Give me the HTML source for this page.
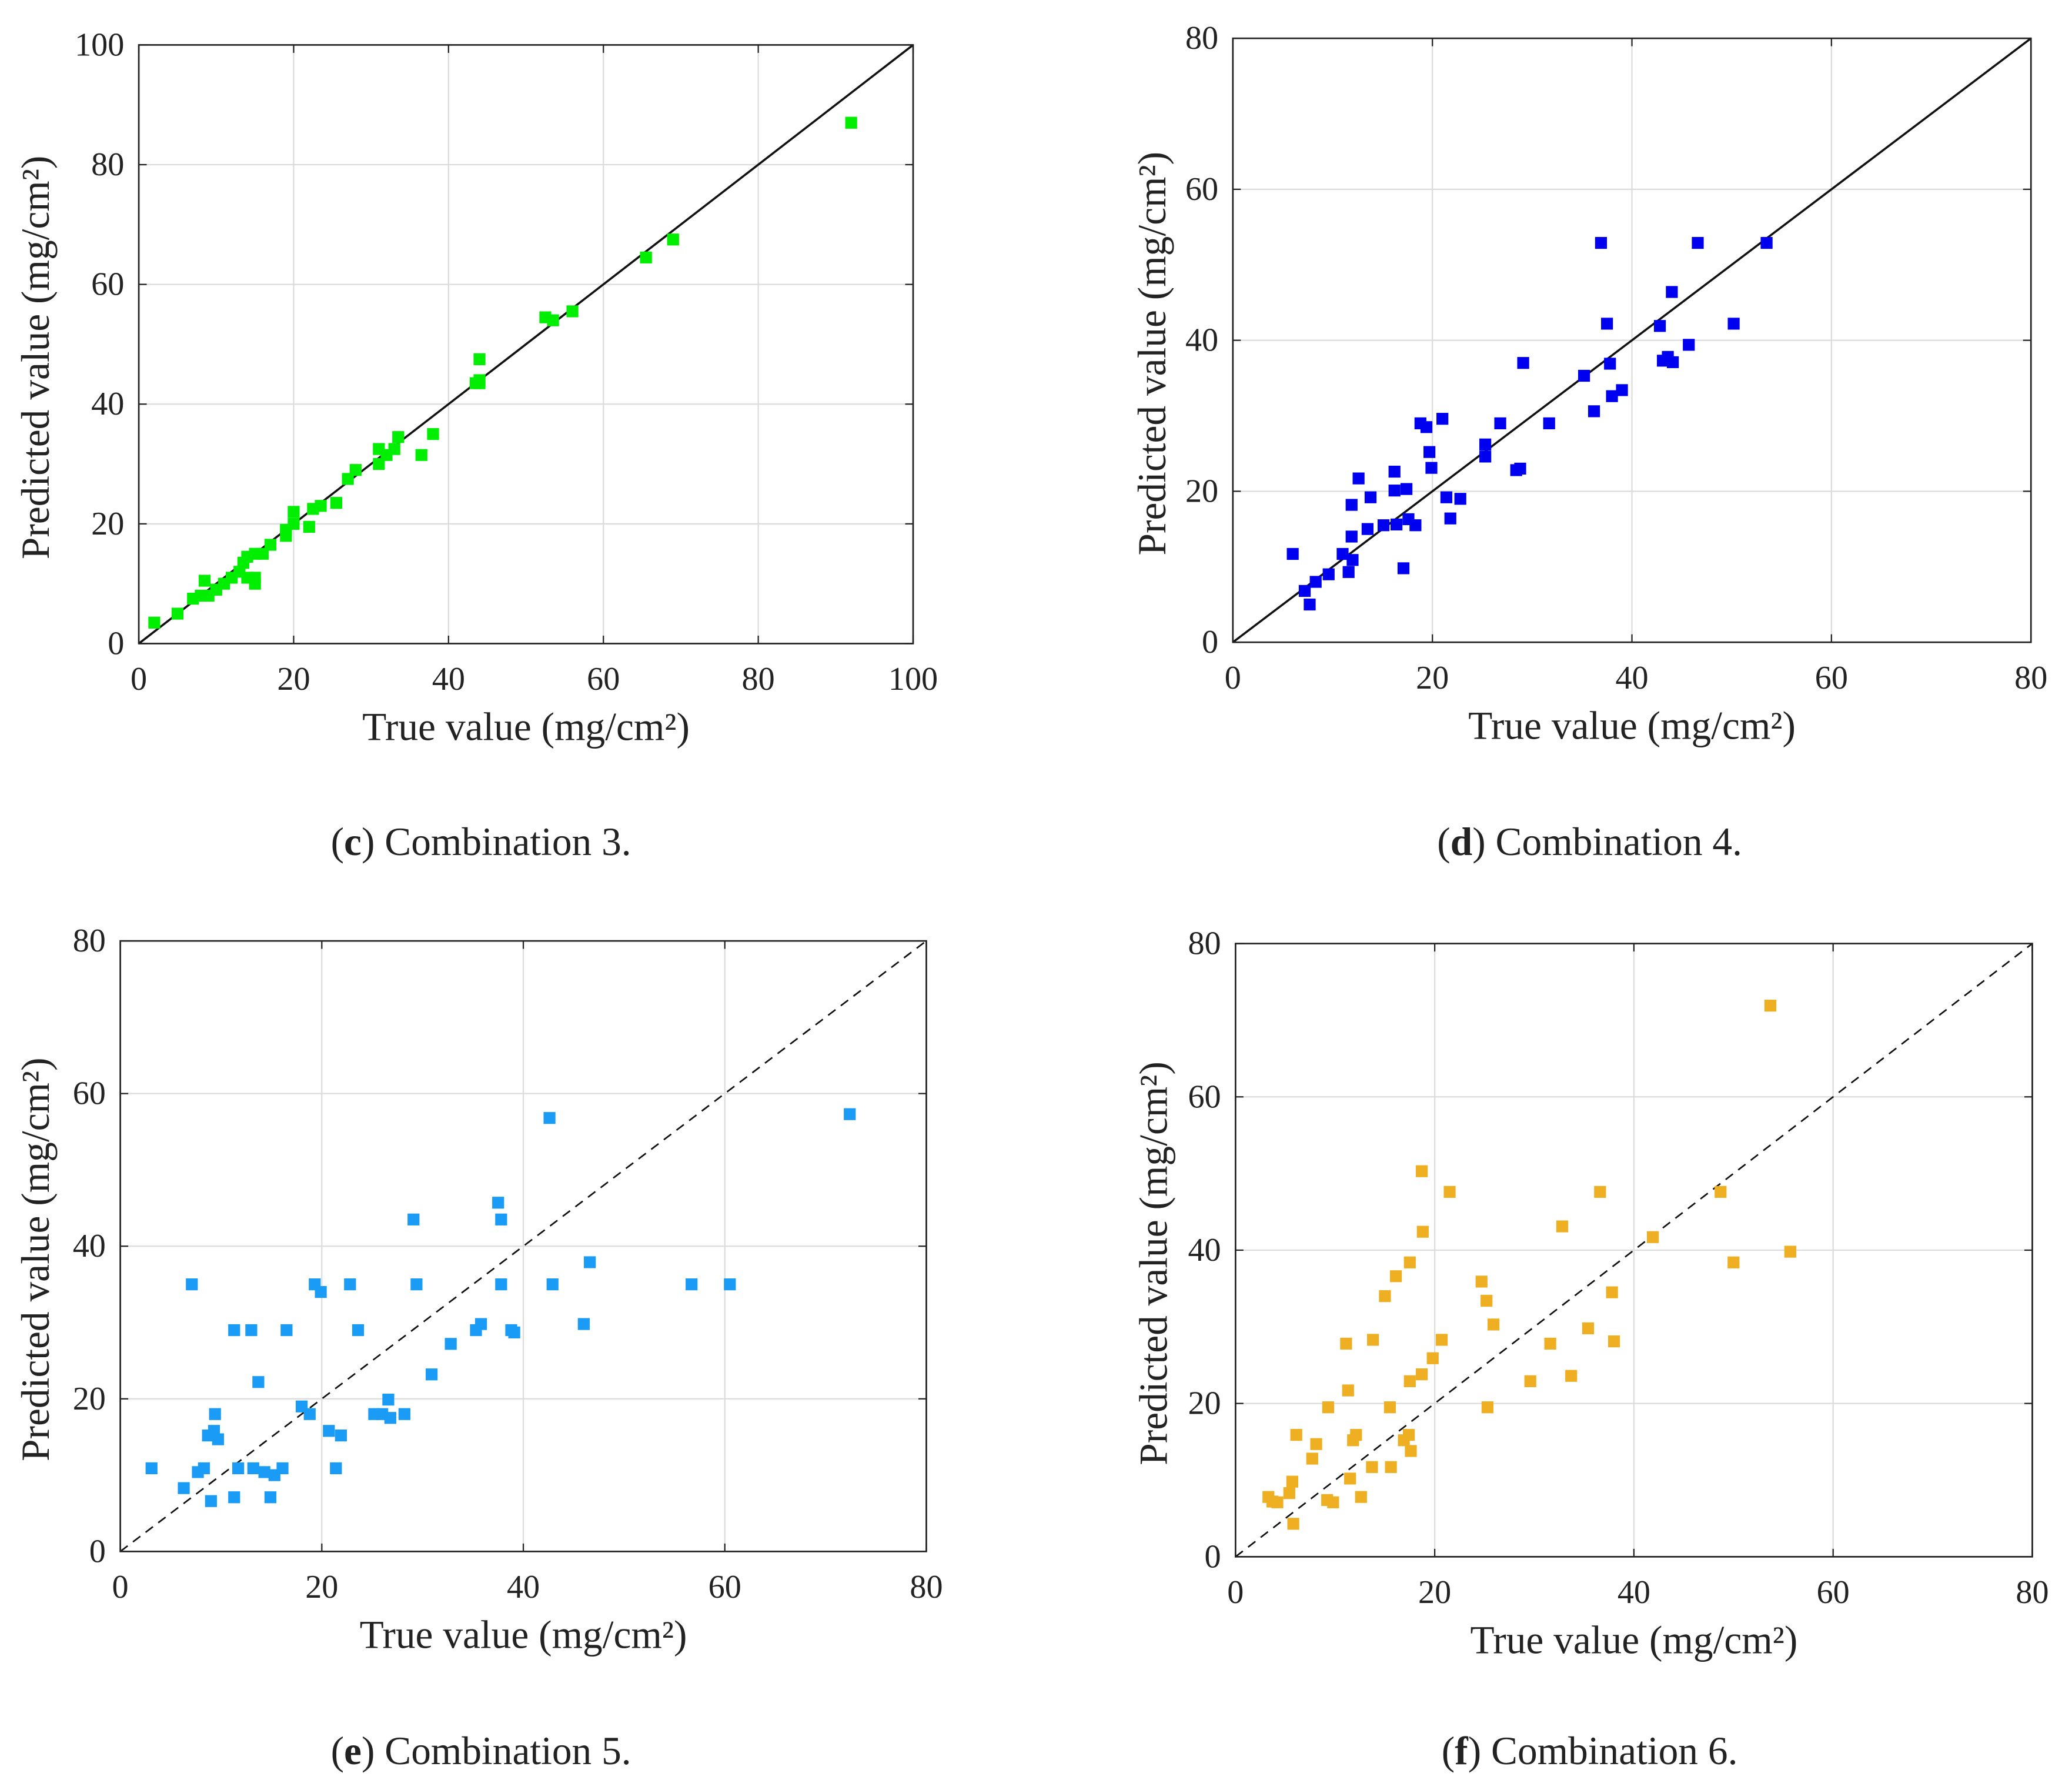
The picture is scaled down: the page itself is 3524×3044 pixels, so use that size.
<!DOCTYPE html>
<html><head><meta charset="utf-8"><style>
html,body{margin:0;padding:0;background:#fff}
svg{display:block;font-family:"Liberation Serif","Times New Roman",serif}
text{font-family:"Liberation Serif","Times New Roman",serif;fill:#222}
</style></head><body>
<svg id="fig" width="3524" height="3044" viewBox="0 0 1568 1354.5" font-family="Liberation Serif, serif" xmlns="http://www.w3.org/2000/svg">
<rect width="1568" height="1354.5" fill="#fff"/>
<text x="364" y="647" font-size="30" text-anchor="middle" font-family="Liberation Serif, serif">(<tspan font-weight="bold">c</tspan>) Combination 3.</text>
<text x="1203" y="647" font-size="30" text-anchor="middle" font-family="Liberation Serif, serif">(<tspan font-weight="bold">d</tspan>) Combination 4.</text>
<text x="364" y="1335" font-size="30" text-anchor="middle" font-family="Liberation Serif, serif">(<tspan font-weight="bold">e</tspan>) Combination 5.</text>
<text x="1203" y="1335" font-size="30" text-anchor="middle" font-family="Liberation Serif, serif">(<tspan font-weight="bold">f</tspan>) Combination 6.</text>
</svg>
<script>
const cTrue=[2,5,7,8,8.5,9,10,11,12,13,13.5,14,14,15,15,15,16,17,19,19,20,20,22,22.5,23.5,25.5,27,28,31,31,32,33,33.5,36.5,38,43.5,44,44,44,52.5,53.5,56,65.5,69,92];
const cPred=[3.5,5,7.5,8,10.5,8,9,10,11,12,13.5,14.5,11,11,10,15,15,16.5,18,19,20,22,19.5,22.5,23,23.5,27.5,29,32.5,30,31.5,32.5,34.5,31.5,35,43.5,44,47.5,43.5,54.5,54,55.5,64.5,67.5,87];
const dTrue=[6,7.2,7.7,8.3,9.6,11,11.6,11.9,11.9,12,12.6,13.5,13.8,15.1,16.2,16.2,16.4,17.1,17.4,17.6,18.3,18.8,19.4,19.7,19.9,21,21.4,21.8,22.8,25.3,25.3,26.8,28.4,28.8,29.1,31.7,35.2,36.2,36.9,37.5,37.8,38,39,42.8,43.1,43.6,44,44.1,45.7,46.6,50.2,53.5];
const dPred=[11.7,6.8,5,8,9,11.7,9.3,18.2,14,10.9,21.7,15,19.2,15.5,22.6,20.1,15.6,9.8,20.3,16.3,15.5,29,28.5,25.2,23.1,29.6,19.2,16.4,19,26.2,24.6,29,22.8,23,37,29,35.3,30.6,52.9,42.2,36.9,32.6,33.4,41.9,37.3,37.8,46.4,37.1,39.4,52.9,42.2,52.9];
const eTrue=[3.1,6.3,7.1,7.7,8.3,8.7,9,9.3,9.4,9.7,11.3,11.3,11.7,13,13.2,13.7,14.3,14.9,15.3,16.1,16.5,18,18.8,19.3,19.9,20.7,21.9,21.4,22.8,23.6,25.2,26,26.6,26.8,28.2,29.1,29.4,30.9,32.8,35.3,35.8,37.5,37.8,37.8,38.8,39.1,42.6,42.9,46,46.6,56.7,60.5,72.4];
const ePred=[10.9,8.3,35,10.4,10.9,15.2,6.6,15.8,18,14.7,29,7.1,10.9,29,10.9,22.2,10.4,7.1,10,10.9,29,19,18,35,34,15.8,15.2,10.9,35,29,18,18,19.9,17.5,18,43.5,35,23.2,27.2,29,29.8,45.7,43.5,35,29,28.7,56.8,35,29.8,37.9,35,35,57.3];
const fTrue=[3.3,3.7,4.2,5.4,5.7,5.8,6.1,7.7,8.1,9.2,9.3,9.8,11.1,11.3,11.5,11.8,12.1,12.6,13.7,13.8,15,15.5,15.6,16.1,16.9,17.4,17.5,17.5,17.6,18.7,18.8,18.7,19.8,20.7,21.5,24.7,25.2,25.3,25.9,29.6,31.6,32.8,33.7,35.4,36.6,37.8,38,41.9,48.7,50,53.7,55.7];
const fPred=[7.8,7.2,7.1,8.3,9.8,4.3,15.9,12.8,14.7,7.4,19.5,7.1,27.8,21.7,10.2,15.2,15.9,7.8,11.7,28.3,34,19.5,11.7,36.6,15.2,15.9,38.4,22.9,13.8,50.3,42.4,23.8,25.9,28.3,47.6,35.9,33.4,19.5,30.3,22.9,27.8,43.1,23.6,29.8,47.6,34.5,28.1,41.7,47.6,38.4,71.9,39.8];
const ticks100=[0,20,40,60,80,100];
const ticks80=[0,20,40,60,80];

const NS="http://www.w3.org/2000/svg";
const svg=document.getElementById('fig');
const FF='Liberation Serif, serif';
function mk(tag,attrs,parent){const e=document.createElementNS(NS,tag);for(const k in attrs)e.setAttribute(k,attrs[k]);(parent||svg).appendChild(e);return e;}

function panel(id,L,R,B,T,max,ticks,xs,ys,color,dashed,titleX){
  const g=mk('g',{});
  
  
  const sx=v=>L+(R-L)*v/max, sy=v=>B-(B-T)*v/max;
  ticks.forEach(t=>{
    if(t>0&&t<max){
      const gx=mk('line',{x1:sx(t),x2:sx(t),y1:T,y2:B,stroke:'#dcdcdc','stroke-width':1},g);
      
      
      const gy=mk('line',{x1:L,x2:R,y1:sy(t),y2:sy(t),stroke:'#dcdcdc','stroke-width':1},g);
      
      
    }
    mk('line',{x1:sx(t),x2:sx(t),y1:B,y2:B-6,stroke:'#222','stroke-width':1},g);
    mk('line',{x1:sx(t),x2:sx(t),y1:T,y2:T+6,stroke:'#222','stroke-width':1},g);
    mk('line',{x1:L,x2:L+6,y1:sy(t),y2:sy(t),stroke:'#222','stroke-width':1},g);
    mk('line',{x1:R,x2:R-6,y1:sy(t),y2:sy(t),stroke:'#222','stroke-width':1},g);
    const xl=mk('text',{x:sx(t),y:B+35,'font-size':25,'text-anchor':'middle','font-family':FF},g);
    xl.textContent=t;
    
    
    const yl=mk('text',{x:L-11,y:sy(t)+8,'font-size':25,'text-anchor':'end','font-family':FF},g);
    yl.textContent=t;
    
    
  });
  const ref=mk('line',{x1:sx(0),y1:sy(0),x2:sx(max),y2:sy(max),stroke:'#111','stroke-width':1.6},g);
  if(dashed){ref.setAttribute('stroke-dasharray','7,5');ref.setAttribute('stroke-width','1.2');}
  
  
  xs.forEach((v,i)=>{
    const p=mk('rect',{x:sx(v)-4.5,y:sy(ys[i])-4.5,width:9,height:9,fill:color},g);
    
    
  });
  const fr=mk('rect',{x:L,y:T,width:R-L,height:B-T,fill:'none',stroke:'#222','stroke-width':1.2},g);
  
  
  const xt=mk('text',{x:(L+R)/2,y:B+73,'font-size':30,'text-anchor':'middle','font-family':FF},g);
  xt.textContent='True value (mg/cm²)';
  
  
  const cy=(T+B)/2, cx=titleX;
  const yt=mk('text',{x:cx,y:cy+10,'font-size':30,'text-anchor':'middle','font-family':FF,transform:'rotate(-90 '+cx+' '+(cy+10)+')'},g);
  yt.textContent='Predicted value (mg/cm²)';
  
  
}
panel('c',105,691,487,34,100,ticks100,cTrue,cPred,'#00ee00',false,37);
panel('d',933,1537,486,29,80,ticks80,dTrue,dPred,'#0000f0',false,882);
panel('e',91,701,1174,712,80,ticks80,eTrue,ePred,'#1a9cf6',true,37);
panel('f',935,1538,1178,714,80,ticks80,fTrue,fPred,'#eeb022',true,883);
</script>
</body></html>
